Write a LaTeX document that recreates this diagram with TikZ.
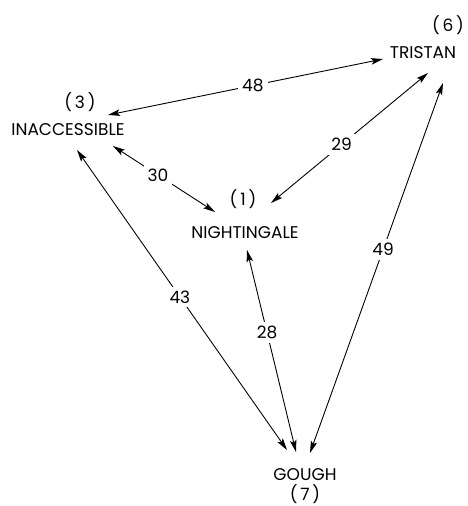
\documentclass[tikz,border=0pt]{standalone}
\usepackage{fontspec}
\setmainfont{Poppins}
\usetikzlibrary{arrows.meta,calc}
\begin{document}
\begin{tikzpicture}[x=1pt,y=-1pt,
  place/.style={inner sep=0pt, font=\fontsize{17}{17}\selectfont},
  num/.style={inner sep=0pt, font=\fontsize{17}{17}\selectfont},
  dist/.style={fill=white, inner sep=4pt, font=\fontsize{17}{17}\selectfont},
  link/.style={line width=0.9pt, {Stealth[length=12pt,width=6.5pt,inset=2.5pt]}-{Stealth[length=12pt,width=6.5pt,inset=2.5pt]}}]
\useasboundingbox (0,0) rectangle (468,506);
% places
\node[place] (tri) at (423,53) {TRISTAN};
\node[num] (tri-n) at (448,25) {(\,6\,)};
\node[place] (ina) at (68,130) {INACCESSIBLE};
\node[num] (ina-n) at (80,102) {(\,3\,)};
\node[place] (nig) at (245,233) {NIGHTINGALE};
\node[num] (nig-n) at (243,199) {(\,1\,)};
\node[place] (gou) at (305,475) {GOUGH};
\node[num] (gou-n) at (305,494) {(\,7\,)};
% connector ends
\coordinate (ina-a) at ($(ina)+(40,-15)$);
\coordinate (ina-b) at ($(ina)+(45,16)$);
\coordinate (ina-c) at ($(ina)+(9,20)$);
\coordinate (tri-a) at ($(tri)+(-40,6)$);
\coordinate (tri-b) at ($(tri)+(5,20)$);
\coordinate (tri-c) at ($(tri)+(20,30)$);
\coordinate (nig-a) at ($(nig)+(26,-30)$);
\coordinate (nig-b) at ($(nig)+(-30,-21)$);
\coordinate (nig-c) at ($(nig)+(2,17)$);
\coordinate (gou-a) at ($(gou)+(-18,-25)$);
\coordinate (gou-b) at ($(gou)+(-9,-23)$);
\coordinate (gou-c) at ($(gou)+(5,-22)$);
% connectors
\draw[link] (ina-a) -- node[dist,pos=0.527] (d48) {48} (tri-a);
\draw[link] (nig-a) -- node[dist,pos=0.45] (d29) {29} (tri-b);
\draw[link] (ina-b) -- node[dist,pos=0.44] (d30) {30} (nig-b);
\draw[link] (ina-c) -- node[dist,pos=0.49] (d43) {43} (gou-a);
\draw[link] (nig-c) -- node[dist,pos=0.41] (d28) {28} (gou-b);
\draw[link] (tri-c) -- node[dist,pos=0.45] (d49) {49} (gou-c);
\end{tikzpicture}
\end{document}
